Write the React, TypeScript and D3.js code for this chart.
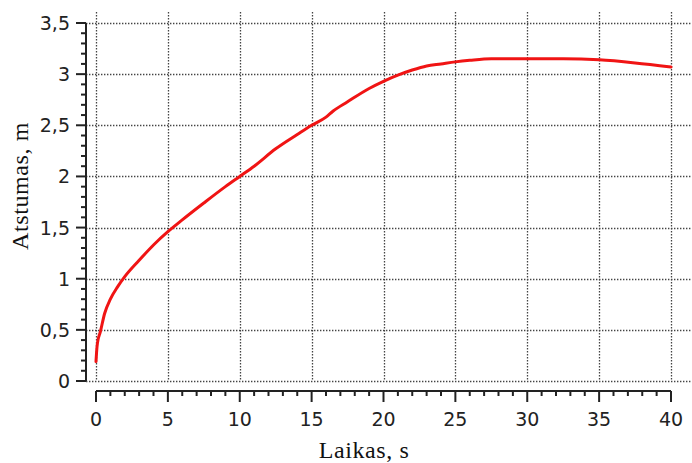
import React from "react";
import * as d3 from "d3";

const timeS = [0, 0.05, 0.1, 0.3, 0.6, 1, 1.5, 2, 3, 4, 5, 6, 7.5, 9, 10, 11, 12.5, 14, 15, 16, 16.5, 17.5, 19, 20, 21, 22, 23, 24, 25, 26, 27.5, 30, 32.5, 35, 37.5, 40];
const distM = [0.19, 0.3, 0.37, 0.48, 0.66, 0.8, 0.92, 1.02, 1.18, 1.33, 1.46, 1.575, 1.74, 1.9, 2.0, 2.1, 2.27, 2.41, 2.5, 2.58, 2.64, 2.73, 2.86, 2.93, 2.99, 3.04, 3.08, 3.1, 3.12, 3.135, 3.15, 3.15, 3.15, 3.14, 3.11, 3.07];
const xTicks = [0, 5, 10, 15, 20, 25, 30, 35, 40];
const yTicks = [0, 0.5, 1, 1.5, 2, 2.5, 3, 3.5];
const yTickLabels = ["0", "0,5", "1", "1,5", "2", "2,5", "3", "3,5"];
const xTitle = "Laikas, s";
const yTitle = "Atstumas, m";

export default function App() {
  const W = 692, H = 463;
  const x = d3.scaleLinear().domain([0, 40]).range([96, 671]);
  const y = d3.scaleLinear().domain([0, 3.5]).range([381, 23]);
  const yAxisX = 86;
  const xAxisY = 391;
  const gridTop = 12;
  const gridRight = 692;
  const xMinor = d3.range(0, 40.001, 1).filter((v) => v % 5 !== 0);
  const yMinor = d3.range(0, 35).map((i) => i / 10).filter((v, i) => i % 5 !== 0);
  const line = d3
    .line<number>()
    .x((_, i) => x(timeS[i]))
    .y((d) => y(d))
    .curve(d3.curveMonotoneX);
  const tickFont = "'DejaVu Sans', Verdana, sans-serif";
  const titleFont = "'Liberation Serif', 'Times New Roman', serif";
  const gridStyle = { stroke: "#444", strokeWidth: 1.3, strokeDasharray: "1.4,1.6" };
  return (
    <svg width={W} height={H} style={{ position: "absolute", left: 0, top: 0, background: "#fff" }}>
      <rect width={W} height={H} fill="#fff" />
      {yTicks.map((t) => (
        <line key={"gy" + t} x1={yAxisX} x2={gridRight} y1={Math.round(y(t)) + 0.5} y2={Math.round(y(t)) + 0.5} style={gridStyle} />
      ))}
      {xTicks.map((t) => (
        <line key={"gx" + t} x1={Math.round(x(t)) + 0.5} x2={Math.round(x(t)) + 0.5} y1={gridTop} y2={y(0)} style={gridStyle} />
      ))}
      <line x1={yAxisX} x2={yAxisX} y1={y(3.5)} y2={y(0)} stroke="#222" strokeWidth={2} />
      {yTicks.map((t) => (
        <line key={"yt" + t} x1={yAxisX - 10} x2={yAxisX} y1={y(t)} y2={y(t)} stroke="#222" strokeWidth={2} />
      ))}
      {yMinor.map((t) => (
        <line key={"ym" + t} x1={yAxisX - 5} x2={yAxisX} y1={y(t)} y2={y(t)} stroke="#222" strokeWidth={2} />
      ))}
      {yTicks.map((t, i) => (
        <text key={"yl" + t} x={70} y={y(t) + 7} textAnchor="end" fontFamily={tickFont} fontSize={19} fill="#222">
          {yTickLabels[i]}
        </text>
      ))}
      <line x1={x(0)} x2={x(40)} y1={xAxisY} y2={xAxisY} stroke="#222" strokeWidth={2} />
      {xTicks.map((t) => (
        <line key={"xt" + t} x1={x(t)} x2={x(t)} y1={xAxisY} y2={xAxisY + 11} stroke="#222" strokeWidth={2} />
      ))}
      {xMinor.map((t) => (
        <line key={"xm" + t} x1={x(t)} x2={x(t)} y1={xAxisY} y2={xAxisY + 5} stroke="#222" strokeWidth={2} />
      ))}
      {xTicks.map((t) => (
        <text key={"xl" + t} x={x(t)} y={426} textAnchor="middle" fontFamily={tickFont} fontSize={19} fill="#222">
          {String(t)}
        </text>
      ))}
      <text x={364} y={458} textAnchor="middle" fontFamily={titleFont} fontSize={24} letterSpacing={0.6} fill="#111">
        {xTitle}
      </text>
      <text transform={`translate(28,186) rotate(-90)`} textAnchor="middle" fontFamily={titleFont} fontSize={24} letterSpacing={0.6} fill="#111">
        {yTitle}
      </text>
      <path d={line(distM) || ""} fill="none" stroke="#f01414" strokeWidth={3} strokeLinejoin="round" strokeLinecap="round" />
    </svg>
  );
}
